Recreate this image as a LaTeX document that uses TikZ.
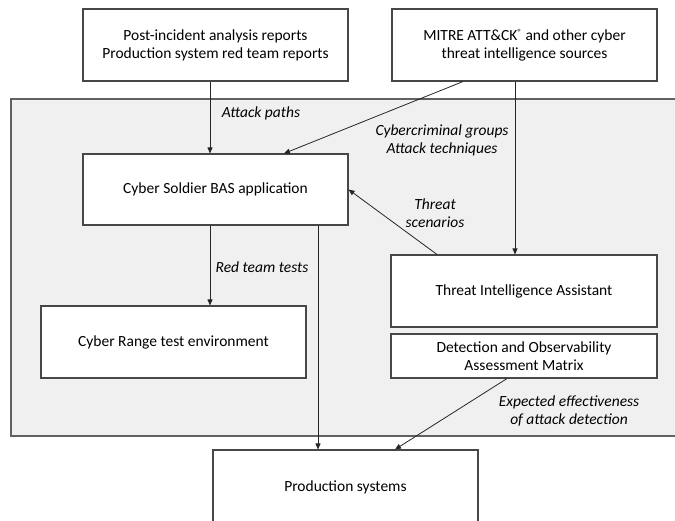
\documentclass[tikz,border=0pt]{standalone}
\usepackage{fontspec}
\setmainfont{Carlito}
\usetikzlibrary{arrows.meta,calc}
\begin{document}
\begin{tikzpicture}[x=1pt,y=-1pt,
  box/.style={draw=black!72, line width=1.1pt, fill=white, inner sep=0pt, align=center,
    font=\fontsize{15.5}{18}\selectfont, text=black},
  lbl/.style={font=\fontsize{15.5}{18}\selectfont\itshape, align=center, inner sep=0pt, text=black},
  arr/.style={draw=black!85, line width=0.8pt, -{Triangle[length=6pt,width=5pt]}},
  region/.style={fill=black!6, draw=black!62, line width=1.1pt}]
\useasboundingbox (0,0) rectangle (675,520);
% shaded region
\draw[region] (11,99) rectangle (690,436);
% boxes
\node[box, minimum width=265pt, minimum height=72pt] (reports) at (215.5,45)
  {Post-incident analysis reports\\Production system red team reports};
\node[box, minimum width=265pt, minimum height=72pt] (mitre) at (524.5,45)
  {MITRE ATT\&CK\raisebox{5pt}{\fontsize{9}{9}\selectfont ®} and other cyber\\threat intelligence sources};
\node[box, minimum width=265pt, minimum height=71pt] (bas) at (215.5,189.5)
  {Cyber Soldier BAS application};
\node[box, minimum width=265pt, minimum height=72pt] (range) at (173.5,342)
  {Cyber Range test environment};
\node[box, minimum width=266pt, minimum height=72pt] (tia) at (524,291)
  {Threat Intelligence Assistant};
\node[box, minimum width=266pt, minimum height=44pt] (doam) at (524,356)
  {Detection and Observability\\Assessment Matrix};
\node[box, minimum width=265pt, minimum height=74pt] (prod) at (345.5,487)
  {Production systems};
% helper coordinates
\coordinate (xa) at (210,0);
\coordinate (xb) at (318,0);
\coordinate (xc) at (515,0);
\coordinate (xd) at (463,0);
\coordinate (xe) at (284,0);
\coordinate (xf) at (437,0);
\coordinate (xg) at (507,0);
\coordinate (xh) at (395,0);
% connectors
\draw[arr] (reports.south -| xa) -- (bas.north -| xa);
\draw[arr] (mitre.south -| xd) -- (bas.north -| xe);
\draw[arr] (mitre.south -| xc) -- (tia.north -| xc);
\draw[arr] (tia.north -| xf) -- (bas.east);
\draw[arr] (bas.south -| xa) -- (range.north -| xa);
\draw[arr] (bas.south -| xb) -- (prod.north -| xb);
\draw[arr] (doam.south -| xg) -- (prod.north -| xh);
% labels
\node[lbl] (l1) at (261,113) {Attack paths};
\node[lbl] (l2) at (442,140) {Cybercriminal groups\\Attack techniques};
\node[lbl] (l3) at (435,213) {Threat\\scenarios};
\node[lbl] (l4) at (262,267) {Red team tests};
\node[lbl] (l5) at (569,411.5) {Expected effectiveness\\of attack detection};
\end{tikzpicture}
\end{document}
